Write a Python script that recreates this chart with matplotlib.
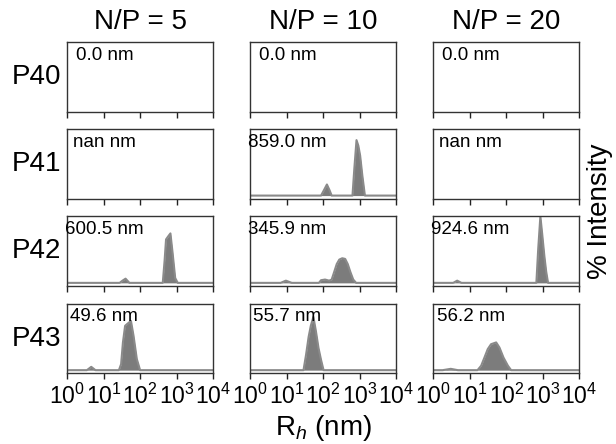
import numpy as np
import matplotlib.pyplot as plt
from matplotlib.ticker import NullLocator

plt.rcParams['font.family'] = ['Liberation Sans', 'DejaVu Sans']
plt.rcParams['mathtext.fontset'] = 'custom'
plt.rcParams['mathtext.rm'] = 'Liberation Sans'
plt.rcParams['mathtext.it'] = 'Liberation Sans:italic'

polymers = ['P40', 'P41', 'P42', 'P43']
np_ratios = [5, 10, 20]
mean_sizes = [['0.0', '0.0', '0.0'],
              ['nan', '859.0', 'nan'],
              ['600.5', '345.9', '924.6'],
              ['49.6', '55.7', '56.2']]

# size distributions (R_h in nm, % intensity)
p41_np10_size = [1, 87, 105, 126, 148, 170, 631, 708, 813, 912, 1023, 1175, 1380, 10000]
p41_np10_int = [0, 0, 2.5, 5.0, 2.5, 0, 0, 12, 25, 22.5, 18, 9, 0, 0]

p42_np5_size = [1, 27.5, 33, 40, 51, 417, 468, 513, 589, 676, 776, 912, 1072, 10000]
p42_np5_int = [0, 0, 1.0, 1.9, 0, 0, 10, 19.6, 21, 22.3, 13.4, 2.2, 0, 0]

p42_np10_size = [1, 6.8, 9.5, 13.8, 76, 87, 112, 145, 170, 200, 234, 275, 331, 398,
                 468, 550, 661, 794, 10000]
p42_np10_int = [0, 0, 1.0, 0, 0, 1.2, 1.5, 1.0, 1.5, 5.0, 8.5, 10.5, 11.1, 10.8,
                8.5, 5.0, 1.5, 0, 0]

p42_np20_size = [1, 3.5, 4.5, 5.9, 661, 741, 851, 955, 1096, 1230, 1380, 10000]
p42_np20_int = [0, 0, 1.0, 0, 0, 15, 30, 22, 12, 5, 0, 0]

p43_np5_size = [1, 3.5, 4.6, 6.0, 26.3, 30.2, 33.9, 38.9, 45.7, 56.2, 66.1, 81.3, 100, 10000]
p43_np5_int = [0, 0, 1.5, 0, 0, 2.7, 12.5, 20, 21, 22.2, 15.5, 5, 0, 0]

p43_np10_size = [1, 28.8, 33.9, 39.8, 45.7, 53.7, 63.1, 74.1, 87.1, 102, 10000]
p43_np10_int = [0, 0, 7, 15, 20, 24, 17.5, 10, 4.6, 0, 0]

p43_np20_size = [1, 1.8, 3.0, 4.7, 16.2, 20.4, 25.1, 30.9, 38, 52.5, 64.6, 83.2, 110, 135, 10000]
p43_np20_int = [0, 0, 0.6, 0, 0, 2, 5.7, 9.5, 11.7, 12.5, 10.2, 5.7, 2, 0, 0]

curves = {
    (1, 1): (p41_np10_size, p41_np10_int),
    (2, 0): (p42_np5_size, p42_np5_int),
    (2, 1): (p42_np10_size, p42_np10_int),
    (2, 2): (p42_np20_size, p42_np20_int),
    (3, 0): (p43_np5_size, p43_np5_int),
    (3, 1): (p43_np10_size, p43_np10_int),
    (3, 2): (p43_np20_size, p43_np20_int),
}

fig, axes = plt.subplots(4, 3, figsize=(6.16, 4.44), dpi=100, sharex=True, sharey=True)
fig.subplots_adjust(left=0.1088, right=0.9407, top=0.906, bottom=0.1588,
                    wspace=0.253, hspace=0.249)

for i, poly in enumerate(polymers):
    for j, r in enumerate(np_ratios):
        ax = axes[i, j]
        ax.set_xscale('log')
        if (i, j) in curves:
            s, y = curves[(i, j)]
            ax.fill_between(s, y, 0, color='#7c7c7c', lw=0)
            ax.plot(s, y, color='#8a8a8a', lw=1.5)
        ax.text(10.5, 0.81, mean_sizes[i][j] + ' nm', transform=ax.get_xaxis_transform(),
                ha='center', va='center', fontsize=13.5)
        ax.set_yticks([])
        ax.xaxis.set_minor_locator(NullLocator())
        ax.tick_params(axis='x', which='major', direction='out', length=4.5, width=1,
                       color='#222222', labelsize=16.5, pad=3)
        for sp in ax.spines.values():
            sp.set_color('#333333')
            sp.set_linewidth(1.0)
        if i == 0:
            ax.set_title(f'N/P = {r}', fontsize=20, pad=9)
        if j == 0:
            ax.text(-0.04, 0.5, poly, transform=ax.transAxes, ha='right', va='center',
                    fontsize=20)

axes[0, 0].set_xlim(1, 1e4)
axes[0, 0].set_ylim(-1.5, 30)
axes[0, 0].set_xticks([1, 10, 100, 1000, 10000])
axes[0, 0].xaxis.set_minor_locator(NullLocator())

axes[3, 1].set_xlabel('R$_h$ (nm)', fontsize=20, labelpad=3)
fig.text(0.974, 0.525, '% Intensity', rotation=90, ha='center', va='center', fontsize=20)

fig.savefig('out.png', dpi=100)
